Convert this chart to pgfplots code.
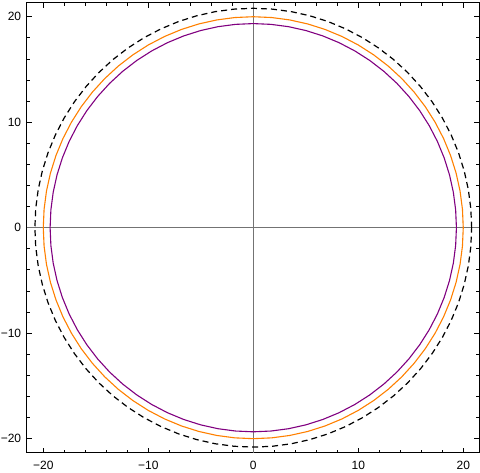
\documentclass[border=0pt]{standalone}
\usepackage{pgfplots}
\pgfplotsset{compat=1.18}
\usepackage{fontspec}
\setmainfont{Liberation Sans}

\definecolor{mmaorange}{rgb}{1,0.5,0}
\definecolor{mmapurple}{rgb}{0.5,0,0.5}

\begin{document}
\begin{tikzpicture}
\begin{axis}[
    scale only axis,
    width=452.3pt, height=450pt,
    xmin=-21.58, xmax=21.5,
    ymin=-21.33, ymax=21.33,
    axis line style={line width=1pt},
    tick align=inside,
    tick pos=both,
    xticklabel pos=lower, yticklabel pos=left,
    major tick length=5pt, minor tick length=3pt,
    every tick/.style={black, line width=0.8pt},
    minor tick num=4,
    xtick={-20,-10,0,10,20}, ytick={-20,-10,0,10,20},
    xticklabels={−20,−10,0,10,20},
    yticklabels={−20,−10,0,10,20},
    tick label style={font=\fontsize{12}{14}\selectfont},
    xticklabel style={yshift=-5pt},
    yticklabel style={xshift=-2pt},
    clip=false,
]
% axes through the origin
\draw[black!55, line width=0.8pt] (axis cs:0,-21.33) -- (axis cs:0,21.33);
\draw[black!55, line width=0.8pt] (axis cs:-21.58,0) -- (axis cs:21.5,0);

% dashed circle, r = 20.8
\addplot[black, line width=1.2pt, dash pattern=on 6pt off 4pt] coordinates {
(20.800,0) (20.721,1.813) (20.484,3.612) (20.091,5.383) (19.546,7.114) (18.851,8.790) (18.013,10.400) (17.038,11.930) (15.934,13.370) (14.708,14.708) (13.370,15.934) (11.930,17.038) (10.400,18.013) (8.790,18.851) (7.114,19.546) (5.383,20.091) (3.612,20.484) (1.813,20.721) (0,20.800)
(-1.813,20.721) (-3.612,20.484) (-5.383,20.091) (-7.114,19.546) (-8.790,18.851) (-10.400,18.013) (-11.930,17.038) (-13.370,15.934) (-14.708,14.708) (-15.934,13.370) (-17.038,11.930) (-18.013,10.400) (-18.851,8.790) (-19.546,7.114) (-20.091,5.383) (-20.484,3.612) (-20.721,1.813) (-20.800,0)
(-20.721,-1.813) (-20.484,-3.612) (-20.091,-5.383) (-19.546,-7.114) (-18.851,-8.790) (-18.013,-10.400) (-17.038,-11.930) (-15.934,-13.370) (-14.708,-14.708) (-13.370,-15.934) (-11.930,-17.038) (-10.400,-18.013) (-8.790,-18.851) (-7.114,-19.546) (-5.383,-20.091) (-3.612,-20.484) (-1.813,-20.721) (0,-20.800)
(1.813,-20.721) (3.612,-20.484) (5.383,-20.091) (7.114,-19.546) (8.790,-18.851) (10.400,-18.013) (11.930,-17.038) (13.370,-15.934) (14.708,-14.708) (15.934,-13.370) (17.038,-11.930) (18.013,-10.400) (18.851,-8.790) (19.546,-7.114) (20.091,-5.383) (20.484,-3.612) (20.721,-1.813) (20.800,0)
};

% orange circle, r = 20.0
\addplot[mmaorange, line width=1.1pt] coordinates {
(20.000,0) (19.924,1.743) (19.696,3.473) (19.319,5.176) (18.794,6.840) (18.126,8.452) (17.321,10.000) (16.383,11.472) (15.321,12.856) (14.142,14.142) (12.856,15.321) (11.472,16.383) (10.000,17.321) (8.452,18.126) (6.840,18.794) (5.176,19.319) (3.473,19.696) (1.743,19.924) (0,20.000)
(-1.743,19.924) (-3.473,19.696) (-5.176,19.319) (-6.840,18.794) (-8.452,18.126) (-10.000,17.321) (-11.472,16.383) (-12.856,15.321) (-14.142,14.142) (-15.321,12.856) (-16.383,11.472) (-17.321,10.000) (-18.126,8.452) (-18.794,6.840) (-19.319,5.176) (-19.696,3.473) (-19.924,1.743) (-20.000,0)
(-19.924,-1.743) (-19.696,-3.473) (-19.319,-5.176) (-18.794,-6.840) (-18.126,-8.452) (-17.321,-10.000) (-16.383,-11.472) (-15.321,-12.856) (-14.142,-14.142) (-12.856,-15.321) (-11.472,-16.383) (-10.000,-17.321) (-8.452,-18.126) (-6.840,-18.794) (-5.176,-19.319) (-3.473,-19.696) (-1.743,-19.924) (0,-20.000)
(1.743,-19.924) (3.473,-19.696) (5.176,-19.319) (6.840,-18.794) (8.452,-18.126) (10.000,-17.321) (11.472,-16.383) (12.856,-15.321) (14.142,-14.142) (15.321,-12.856) (16.383,-11.472) (17.321,-10.000) (18.126,-8.452) (18.794,-6.840) (19.319,-5.176) (19.696,-3.473) (19.924,-1.743) (20.000,0)
};

% purple circle, r = 19.35
\addplot[mmapurple, line width=1.1pt] coordinates {
(19.350,0) (19.276,1.687) (19.056,3.360) (18.691,5.008) (18.183,6.618) (17.537,8.178) (16.758,9.675) (15.851,11.099) (14.823,12.438) (13.683,13.683) (12.438,14.823) (11.099,15.851) (9.675,16.758) (8.178,17.537) (6.618,18.183) (5.008,18.691) (3.360,19.056) (1.687,19.276) (0,19.350)
(-1.687,19.276) (-3.360,19.056) (-5.008,18.691) (-6.618,18.183) (-8.178,17.537) (-9.675,16.758) (-11.099,15.851) (-12.438,14.823) (-13.683,13.683) (-14.823,12.438) (-15.851,11.099) (-16.758,9.675) (-17.537,8.178) (-18.183,6.618) (-18.691,5.008) (-19.056,3.360) (-19.276,1.687) (-19.350,0)
(-19.276,-1.687) (-19.056,-3.360) (-18.691,-5.008) (-18.183,-6.618) (-17.537,-8.178) (-16.758,-9.675) (-15.851,-11.099) (-14.823,-12.438) (-13.683,-13.683) (-12.438,-14.823) (-11.099,-15.851) (-9.675,-16.758) (-8.178,-17.537) (-6.618,-18.183) (-5.008,-18.691) (-3.360,-19.056) (-1.687,-19.276) (0,-19.350)
(1.687,-19.276) (3.360,-19.056) (5.008,-18.691) (6.618,-18.183) (8.178,-17.537) (9.675,-16.758) (11.099,-15.851) (12.438,-14.823) (13.683,-13.683) (14.823,-12.438) (15.851,-11.099) (16.758,-9.675) (17.537,-8.178) (18.183,-6.618) (18.691,-5.008) (19.056,-3.360) (19.276,-1.687) (19.350,0)
};
\end{axis}
\pgfresetboundingbox
\path ([shift={(-26.7pt,-19.3pt)}]current axis.south west)
  rectangle ([shift={(1pt,2.7pt)}]current axis.north east);
\end{tikzpicture}
\end{document}
